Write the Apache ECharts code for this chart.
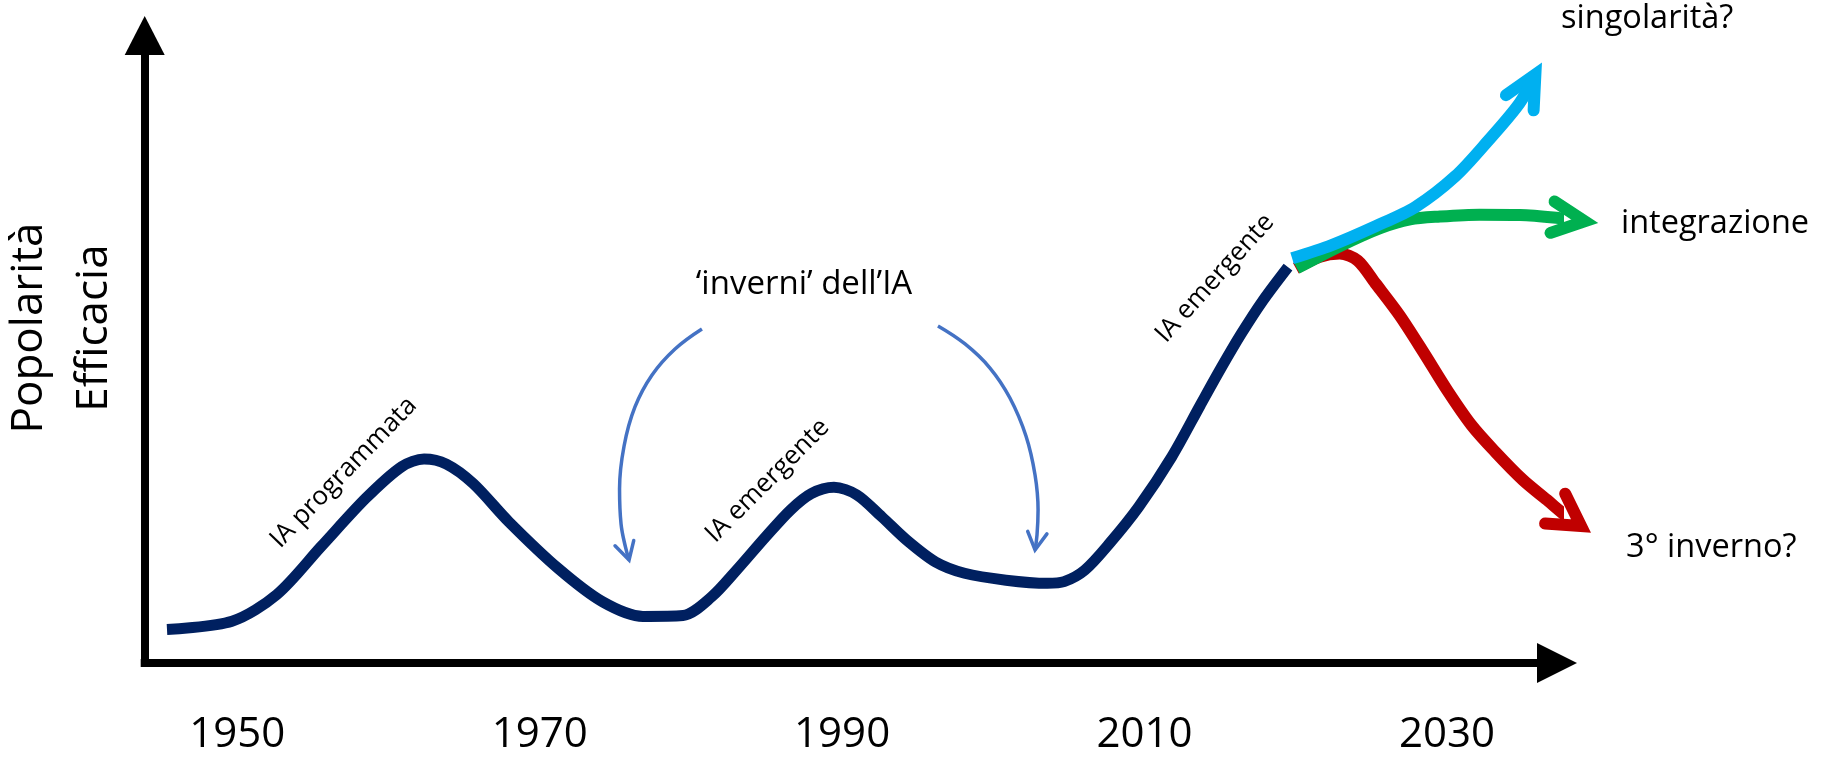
<!DOCTYPE html>
<html>
<head>
<meta charset="utf-8">
<script src="https://cdn.jsdelivr.net/npm/echarts@6/dist/echarts.min.js"></script>
<style>
html,body{margin:0;padding:0;background:#fff;}
#chart{width:1826px;height:760px;}
</style>
</head>
<body>
<div id="chart"></div>
<script>
// ---------- data (year, relative level 0..100) ----------
const xTickYears = [1950, 1970, 1990, 2010, 2030];

const historyCurve = [
  [1945.35, 5.34], [1949.65, 6.66], [1952.61, 10.9], [1955.56, 18.6], [1958.52, 26.3],
  [1960.88, 31.3], [1962.35, 32.5], [1963.83, 31.7], [1965.6, 28.6], [1967.96, 22.5],
  [1971.21, 15.1], [1974.17, 9.74], [1976.83, 7.43], [1979.48, 7.57], [1981.38, 10.57],
  [1983.02, 14.8], [1984.94, 20.1], [1986.59, 24.4], [1987.96, 27.0], [1989.46, 28.0],
  [1990.97, 26.8], [1992.62, 23.3], [1994.26, 19.6], [1996.18, 16.1], [1998.1, 14.3],
  [2000.84, 13.2], [2003.58, 12.7], [2004.68, 12.96], [2006.05, 14.8], [2007.7, 19.1],
  [2009.62, 24.9], [2011.81, 32.9], [2013.67, 41.0], [2015.06, 47.0], [2016.38, 52.4],
  [2017.84, 57.8], [2019.49, 63.1]
];

const winterBranch = [
  [2020.01, 62.9], [2021.59, 64.75], [2022.91, 65.24], [2024.1, 64.14], [2025.28, 60.48],
  [2026.87, 55.4], [2028.46, 49.48], [2030.04, 43.38], [2031.63, 37.88], [2033.21, 33.61],
  [2035.03, 29.16], [2036.62, 25.98], [2037.88, 23.43], [2038.87, 21.83]
];

const integrationBranch = [
  [2020.07, 62.9], [2022.93, 66.45], [2025.58, 69.3], [2027.56, 70.7], [2029.54, 71.15],
  [2032.15, 71.45], [2034.83, 71.4], [2037.48, 70.9], [2039.11, 70.4]
];

const singularityBranch = [
  [2019.76, 64.5], [2022.38, 66.6], [2025.28, 69.6], [2027.93, 72.7], [2030.57, 77.6],
  [2032.68, 83.1], [2034.8, 89.2], [2035.85, 93.8]
];

const winterArrowLeft = [
  [1980.73, 53.23], [1978.95, 50.04], [1977.43, 45.9], [1976.3, 40.8], [1975.58, 34.58],
  [1975.28, 27.73], [1975.38, 22.15], [1975.67, 18.49], [1975.91, 16.41]
];

const winterArrowRight = [
  [1996.34, 53.71], [1998.13, 50.84], [1999.78, 47.01], [2001.1, 42.23], [2002.16, 36.18],
  [2002.76, 29.96], [2002.96, 24.38], [2002.89, 20.4], [2002.76, 18.01]
];

const annotationTexts = ['IA programmata', 'IA emergente', 'IA emergente', '\u2018inverni\u2019 dell\u2019IA',
  'singolarit\u00e0?', 'integrazione', '3\u00b0 inverno?'];
const annotationYears = [1957.04, 1985.07, 2014.66, 1987.48, 2037.55, 2041.51, 2041.85];
const annotationValues = [30.36, 29.04, 61.31, 60.35, 102.6, 70.0, 18.39];
const annotationAngles = [46, 45, 48, 0, 0, 0, 0];

// ---------- styles ----------
const FONT = '"Open Sans", "Noto Sans", sans-serif';
const annotationStyles = [
  {size: 26, align: 'center'}, {size: 26, align: 'center'}, {size: 26, align: 'center'},
  {size: 33, align: 'center'}, {size: 32.5, align: 'left'}, {size: 32.5, align: 'left'}, {size: 32.5, align: 'left'}
];

const curves = [
  {data: historyCurve, color: '#002060', width: 11, smooth: 0.3},
  {data: winterBranch, color: '#C00000', width: 12, smooth: 0.3},
  {data: integrationBranch, color: '#00B050', width: 12, smooth: 0.3},
  {data: singularityBranch, color: '#00B0F0', width: 12, smooth: 0.3},
  {data: winterArrowLeft, color: '#4472C4', width: 3.5, smooth: 0.4},
  {data: winterArrowRight, color: '#4472C4', width: 3.5, smooth: 0.4}
];
const arrowStyles = [
  {curve: 1, len: 36, half: 30},
  {curve: 2, len: 36, half: 26},
  {curve: 3, len: 36, half: 26},
  {curve: 4, len: 20, half: 29},
  {curve: 5, len: 20, half: 29}
];

const arrowData = arrowStyles.map(function (a) {
  const d = curves[a.curve].data;
  const p0 = d[d.length - 2], p1 = d[d.length - 1];
  return [p0[0], p0[1], p1[0], p1[1]];
});

const lineSeries = curves.map(function (c) {
  return {
    type: 'line', data: c.data, smooth: c.smooth, showSymbol: false, symbol: 'none',
    clip: false, silent: true,
    lineStyle: {color: c.color, width: c.width, cap: 'butt', join: 'round'}
  };
});

const chart = echarts.init(document.getElementById('chart'), null, {renderer: 'canvas'});
chart.setOption({
  animation: false,
  backgroundColor: '#ffffff',
  grid: {left: 144.7, right: 269, top: 35.5, bottom: 97, containLabel: false, outerBoundsMode: 'none'},
  xAxis: {
    type: 'value', min: 1943.876, max: 2037.28,
    axisLine: {onZero: false, symbol: ['none', 'triangle'], symbolSize: [40, 40],
      lineStyle: {color: '#000', width: 8, cap: 'square'}},
    axisTick: {show: false},
    splitLine: {show: false},
    axisLabel: {customValues: xTickYears, formatter: function (v) { return String(v); },
      color: '#000', fontSize: 42, fontFamily: FONT, margin: 51}
  },
  yAxis: {
    type: 'value', min: 0, max: 100,
    axisLine: {show: true, onZero: false, symbol: ['none', 'triangle'], symbolSize: [40, 39],
      lineStyle: {color: '#000', width: 8, cap: 'square'}},
    axisTick: {show: false},
    splitLine: {show: false},
    axisLabel: {show: false}
  },
  graphic: [
    {type: 'text', x: 29.9, y: 328, rotation: Math.PI / 2,
      style: {text: 'Popolarit\u00e0', fontSize: 44, fontFamily: FONT, fill: '#000', align: 'center', verticalAlign: 'middle'}},
    {type: 'text', x: 94.9, y: 328, rotation: Math.PI / 2,
      style: {text: 'Efficacia', fontSize: 44, fontFamily: FONT, fill: '#000', align: 'center', verticalAlign: 'middle'}}
  ],
  series: lineSeries.concat([
    {
      type: 'custom', silent: true, clip: false,
      data: arrowData,
      encode: {x: [0, 2], y: [1, 3]},
      renderItem: function (params, api) {
        const st = arrowStyles[params.dataIndex];
        const c = curves[st.curve];
        const p0 = api.coord([api.value(0), api.value(1)]);
        const p1 = api.coord([api.value(2), api.value(3)]);
        const ang = Math.atan2(p1[1] - p0[1], p1[0] - p0[0]);
        const h = st.half * Math.PI / 180;
        const a1 = [p1[0] - st.len * Math.cos(ang - h), p1[1] - st.len * Math.sin(ang - h)];
        const a2 = [p1[0] - st.len * Math.cos(ang + h), p1[1] - st.len * Math.sin(ang + h)];
        return {
          type: 'polyline', shape: {points: [a1, p1, a2]},
          style: {stroke: c.color, lineWidth: c.width, fill: null, lineCap: 'round', lineJoin: 'miter', miterLimit: 10}
        };
      }
    },
    {
      type: 'custom', silent: true, clip: false,
      data: annotationYears.map(function (y, i) { return [y, annotationValues[i]]; }),
      encode: {x: 0, y: 1},
      renderItem: function (params, api) {
        const i = params.dataIndex;
        const st = annotationStyles[i];
        const p = api.coord([api.value(0), api.value(1)]);
        return {
          type: 'text', x: p[0], y: p[1], rotation: annotationAngles[i] * Math.PI / 180,
          style: {text: annotationTexts[i], fontSize: st.size, fontFamily: FONT, fill: '#000',
            align: st.align, verticalAlign: 'middle'}
        };
      }
    }
  ])
});
</script>
</body>
</html>
